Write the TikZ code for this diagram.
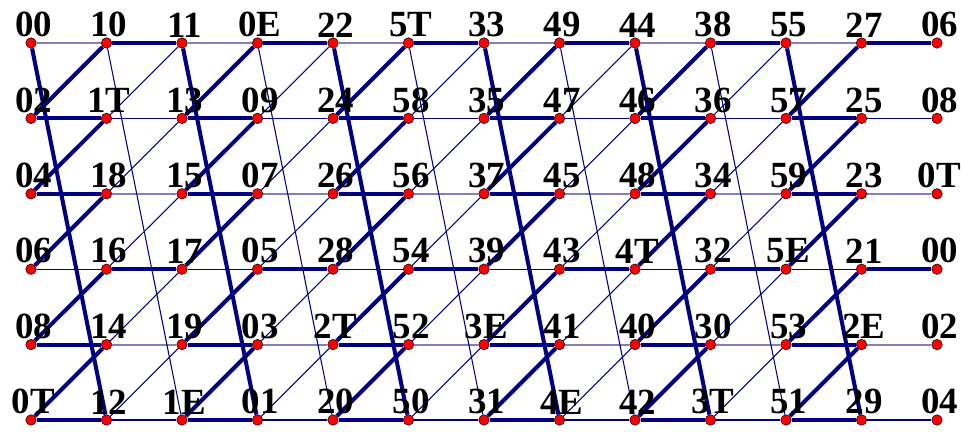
\documentclass[tikz,border=0pt]{standalone}
\usepackage{fontspec}
\setmainfont{Liberation Serif}
\usetikzlibrary{backgrounds}
\definecolor{linenavy}{RGB}{0,0,128}

\begin{document}
\begin{tikzpicture}[
    x=0.02cm, y=-0.02cm,
    dot/.style={circle, draw=black, line width=0.3pt, fill=red, inner sep=0pt, minimum size=0.21cm, label distance=0.17cm},
    lbl/.style={font=\fontsize{21}{21}\selectfont\bfseries, inner sep=0pt, xshift=0.05cm},
    thickedge/.style={draw=linenavy, line width=2.3pt},
    thinedge/.style={draw=linenavy, line width=0.6pt},
    lightedge/.style={draw=linenavy!50, line width=1.1pt}
]
    \useasboundingbox (0,0) rectangle (961,432);

    % Grid nodes, one list per row
    \foreach \r/\labs in {0/{00,10,11,0E,22,5T,33,49,44,38,55,27,06},
                          1/{02,1T,13,09,24,58,35,47,46,36,57,25,08},
                          2/{04,18,15,07,26,56,37,45,48,34,59,23,0T},
                          3/{06,16,17,05,28,54,39,43,4T,32,5E,21,00},
                          4/{08,14,19,03,2T,52,3E,41,40,30,53,2E,02},
                          5/{0T,12,1E,01,20,50,31,4E,42,3T,51,29,04}}{
        \foreach \lab [count=\c from 0] in \labs
            \node[dot, label={[lbl]above:\lab}] (n-\r-\c) at ({31+75.5*\c},{43+75.4*\r}) {};
    }

    \begin{pgfonlayer}{background}
    % Rows
    \foreach \r in {0,...,5}
        \foreach \c in {0,...,11}{
            \pgfmathtruncatemacro{\cn}{\c+1}
            \pgfmathtruncatemacro{\hk}{ifthenelse(\r==0 || \r==3, mod(\c,2), 1-mod(\c,2))}
            \ifnum\hk=1 \def\st{thickedge}\else\ifodd\r \def\st{thinedge}\else\def\st{lightedge}\fi\fi
            \draw[\st] (n-\r-\c) -- (n-\r-\cn);
        }
    % Rising diagonals
    \foreach \r in {0,...,4}
        \foreach \c in {0,...,10}{
            \pgfmathtruncatemacro{\rn}{\r+1}
            \pgfmathtruncatemacro{\cn}{\c+1}
            \ifodd\c \def\st{thinedge}\else\def\st{thickedge}\fi
            \draw[\st] (n-\rn-\c) -- (n-\r-\cn);
        }
    % Steep lines, top row to bottom row
    \foreach \c in {0,...,10}{
        \pgfmathtruncatemacro{\cn}{\c+1}
        \ifodd\c \def\st{thinedge}\else\def\st{thickedge}\fi
        \draw[\st] (n-0-\c) -- (n-5-\cn);
    }
    \end{pgfonlayer}

\end{tikzpicture}
\end{document}
